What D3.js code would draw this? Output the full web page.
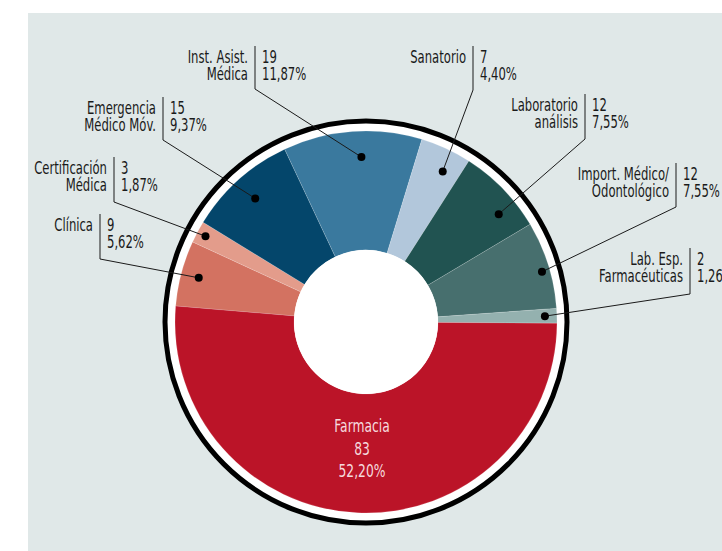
<!DOCTYPE html>
<html>
<head>
<meta charset="utf-8">
<script src="https://cdn.jsdelivr.net/npm/d3@7"></script>
<style>
  body { margin: 0; background: #fff; }
  svg text { font-family: "DejaVu Sans Condensed", "DejaVu Sans", sans-serif; font-stretch: condensed; fill: #1a1a1a; }
</style>
</head>
<body>
<svg id="chart" width="722" height="551"></svg>
<script>
// data, clockwise from the Clínica slice
const categories = ["Clínica", "Certificación Médica", "Emergencia Médico Móv.", "Inst. Asist. Médica",
  "Sanatorio", "Laboratorio análisis", "Import. Médico/Odontológico", "Lab. Esp. Farmacéuticas", "Farmacia"];
const counts = [9, 3, 15, 19, 7, 12, 12, 2, 83];
const percents = ["5,62%", "1,87%", "9,37%", "11,87%", "4,40%", "7,55%", "7,55%", "1,26%", "52,20%"];
const colors = ["#d37261", "#e39c8b", "#04466b", "#3a799e", "#b2c7db", "#215351", "#476f6e", "#94b1af", "#bb1428"];

// label text split in lines
const labelLines = [["Clínica"], ["Certificación", "Médica"], ["Emergencia", "Médico Móv."], ["Inst. Asist.", "Médica"],
  ["Sanatorio"], ["Laboratorio", "análisis"], ["Import. Médico/", "Odontológico"], ["Lab. Esp.", "Farmacéuticas"]];

// where each callout sits (vertical rule x, top, bottom, dot radius, dot angle nudge in deg)
const callouts = [
  {x: 100, top: 214, bottom: 259, r: 173, off: 0},
  {x: 114, top: 157, bottom: 202, r: 182, off: 0},
  {x: 163, top: 97, bottom: 140, r: 166, off: 0},
  {x: 255, top: 46, bottom: 89, r: 165, off: 2.5},
  {x: 473, top: 46, bottom: 90, r: 169, off: 2.2},
  {x: 585, top: 94, bottom: 139, r: 171, off: 5},
  {x: 676, top: 163, bottom: 207, r: 183, off: 1.5},
  {x: 690, top: 248, bottom: 294, r: 179, off: 0}
];

const cx = 366, cy = 322;
const innerR = 72, outerR = 191;
const squeeze = 0.76; // the original type is a narrow face

const svg = d3.select("#chart");

function narrow(sel) {
  sel.each(function() {
    const w = this.getComputedTextLength();
    d3.select(this).attr("textLength", w * squeeze).attr("lengthAdjust", "spacingAndGlyphs");
  });
  return sel;
}

svg.append("rect")
  .attr("x", 28).attr("y", 13)
  .attr("width", 722 - 28).attr("height", 551 - 13)
  .attr("fill", "#e0e8e8");

const g = svg.append("g").attr("transform", `translate(${cx},${cy})`);

// white band + black ring
g.append("circle")
  .attr("r", 201)
  .attr("fill", "#fff")
  .attr("stroke", "#000")
  .attr("stroke-width", 5);

const start = -85.2 * Math.PI / 180;
const pie = d3.pie().sort(null).value(d => d)
  .startAngle(start).endAngle(start + 2 * Math.PI);
const arcs = pie(counts);

const arc = d3.arc().innerRadius(innerR).outerRadius(outerR);

g.selectAll("path.slice")
  .data(arcs)
  .enter()
  .append("path")
  .attr("class", "slice")
  .attr("d", arc)
  .attr("fill", (d, i) => colors[i])
  .attr("stroke", "#ffffff")
  .attr("stroke-opacity", 0.25)
  .attr("stroke-width", 0.6);

g.append("circle").attr("r", innerR).attr("fill", "#fff");

// callouts
const lh = 17;
callouts.forEach(function(c, i) {
  const a = arcs[i];
  const mid = (a.startAngle + a.endAngle) / 2 + c.off * Math.PI / 180;
  const dx = cx + c.r * Math.sin(mid);
  const dy = cy - c.r * Math.cos(mid);

  svg.append("line")
    .attr("x1", c.x).attr("x2", c.x)
    .attr("y1", c.top).attr("y2", c.bottom)
    .attr("stroke", "#1a1a1a").attr("stroke-width", 1);
  svg.append("line")
    .attr("x1", c.x).attr("y1", c.bottom)
    .attr("x2", dx).attr("y2", dy)
    .attr("stroke", "#1a1a1a").attr("stroke-width", 1);
  svg.append("circle")
    .attr("cx", dx).attr("cy", dy).attr("r", 4)
    .attr("fill", "#000");

  labelLines[i].forEach(function(t, j) {
    svg.append("text")
      .attr("x", c.x - 7)
      .attr("y", c.top + 17 + j * lh)
      .attr("text-anchor", "end")
      .style("font-size", "17px")
      .text(t)
      .call(narrow);
  });
  [String(counts[i]), percents[i]].forEach(function(t, j) {
    svg.append("text")
      .attr("x", c.x + 7)
      .attr("y", c.top + 17 + j * lh)
      .style("font-size", "17px")
      .text(t)
      .call(narrow);
  });
});

// big slice label
const big = svg.append("g").attr("transform", `translate(${cx - 4},${cy})`);
["Farmacia", String(counts[8]), percents[8]].forEach(function(t, j) {
  big.append("text")
    .attr("y", 110 + j * 22.5)
    .attr("text-anchor", "middle")
    .style("font-size", "18px")
    .style("fill", "#f6dade")
    .text(t)
    .call(narrow);
});
</script>
</body>
</html>
